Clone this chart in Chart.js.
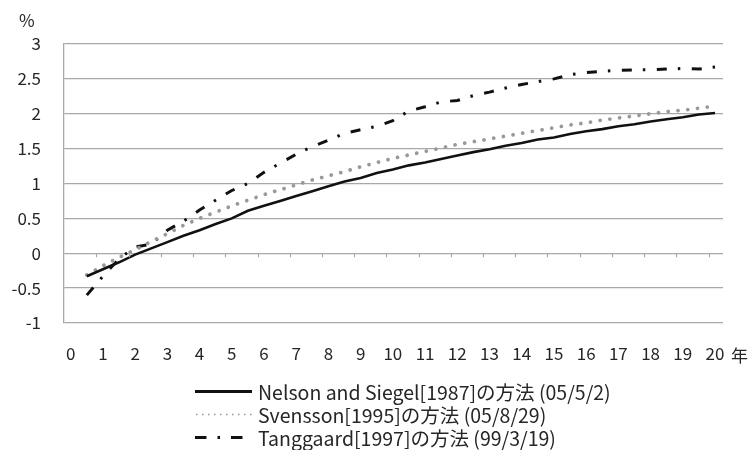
<!DOCTYPE html>
<html>
<head>
<meta charset="utf-8">
<script src="https://cdn.jsdelivr.net/npm/chart.js@4"></script>
<style>
  body { margin: 0; background: #fff; }
  #wrap { position: relative; width: 752px; height: 450px; font-family: "Noto Sans CJK JP", sans-serif; color: #262626; }
  canvas { position: absolute; left: 0; top: 0; }
  .lbl { position: absolute; font-size: 17px; line-height: 20px; }
  .row { position: absolute; left: 192px; height: 23px; font-size: 19.5px; line-height: 23px; white-space: nowrap; }
  .row svg { position: absolute; left: 0; top: 0; }
  .row span { position: absolute; left: 66px; top: 0; }
</style>
</head>
<body>
<div id="wrap">
  <canvas id="chart" width="752" height="450"></canvas>
  <div class="lbl" style="left:19px; top:10px;">%</div>
  <div class="lbl" style="left:731px; top:345px;">年</div>
  <div id="legend"></div>
</div>
<script>
// 年限 (0.5年刻み)
const years = [0.5, 1, 1.5, 2, 2.5, 3, 3.5, 4, 4.5, 5, 5.5, 6, 6.5, 7, 7.5, 8, 8.5, 9, 9.5, 10,
  10.5, 11, 11.5, 12, 12.5, 13, 13.5, 14, 14.5, 15, 15.5, 16, 16.5, 17, 17.5, 18, 18.5, 19, 19.5, 20];

// 各手法のスポットレート (%)
const nelsonSiegel = [-0.33, -0.23, -0.13, -0.02, 0.07, 0.16, 0.25, 0.33, 0.42, 0.5,
  0.61, 0.68, 0.75, 0.82, 0.89, 0.96, 1.03, 1.08, 1.15, 1.2,
  1.26, 1.3, 1.35, 1.4, 1.45, 1.49, 1.54, 1.58, 1.63, 1.66,
  1.71, 1.75, 1.78, 1.82, 1.85, 1.89, 1.92, 1.95, 1.99, 2.01];
const svensson = [-0.31, -0.18, -0.06, 0.05, 0.17, 0.28, 0.4, 0.5, 0.59, 0.68,
  0.76, 0.84, 0.91, 0.98, 1.05, 1.11, 1.17, 1.24, 1.3, 1.36,
  1.41, 1.46, 1.51, 1.56, 1.6, 1.64, 1.68, 1.72, 1.76, 1.8,
  1.84, 1.87, 1.91, 1.94, 1.97, 2.0, 2.03, 2.05, 2.08, 2.11];
const tanggaard = [-0.6, -0.33, -0.08, 0.09, 0.13, 0.33, 0.46, 0.62, 0.76, 0.9,
  1.0, 1.16, 1.29, 1.42, 1.53, 1.62, 1.72, 1.77, 1.82, 1.9,
  2.04, 2.1, 2.17, 2.19, 2.26, 2.31, 2.37, 2.42, 2.46, 2.5,
  2.56, 2.59, 2.61, 2.62, 2.63, 2.63, 2.64, 2.65, 2.64, 2.67];

// 目盛ラベル
const xTickLabels = [0, 1, 2, 3, 4, 5, 6, 7, 8, 9, 10, 11, 12, 13, 14, 15, 16, 17, 18, 19, 20];
const yTickLabels = [-1, -0.5, 0, 0.5, 1, 1.5, 2, 2.5, 3];
// 0%線上の小さな目盛 (元図ではラベルから少しずれている)
const axisTickMarks = [0.8, 1.8, 2.8, 3.8, 4.8, 5.8, 6.8, 7.8, 8.8, 9.8,
  10.8, 11.8, 12.8, 13.8, 14.8, 15.8, 16.8, 17.8, 18.8, 19.8];

const legendNames = [
  "Nelson and Siegel[1987]の方法 (05/5/2)",
  "Svensson[1995]の方法 (05/8/29)",
  "Tanggaard[1997]の方法 (99/3/19)",
];

const gridColor = "#a9a9a9";

function toPoints(values) {
  return values.map((v, i) => ({ x: years[i], y: v }));
}

// 0%線の目盛を描くプラグイン
const zeroTicks = {
  id: "zeroTicks",
  afterDatasetsDraw(chart) {
    const ctx = chart.ctx;
    const xs = chart.scales.x;
    const y0 = chart.scales.y.getPixelForValue(0);
    ctx.save();
    ctx.strokeStyle = gridColor;
    ctx.lineWidth = 1.2;
    axisTickMarks.forEach((t) => {
      const px = Math.round(xs.getPixelForValue(t)) + 0.5;
      ctx.beginPath();
      ctx.moveTo(px, y0);
      ctx.lineTo(px, y0 + 4);
      ctx.stroke();
    });
    ctx.restore();
  },
};

new Chart(document.getElementById("chart"), {
  type: "line",
  data: {
    datasets: [
      {
        label: legendNames[0],
        data: toPoints(nelsonSiegel),
        borderColor: "#111",
        borderWidth: 2.6,
        pointRadius: 0,
        tension: 0,
      },
      {
        label: legendNames[1],
        data: toPoints(svensson),
        borderColor: "#999",
        borderWidth: 3.8,
        borderDash: [0.01, 9.8],
        borderCapStyle: "round",
        pointRadius: 0,
        tension: 0,
      },
      {
        label: legendNames[2],
        data: toPoints(tanggaard),
        borderColor: "#111",
        borderWidth: 3,
        borderDash: [10, 11, 2.5, 11.5],
        pointRadius: 0,
        tension: 0,
      },
    ],
  },
  options: {
    responsive: false,
    animation: false,
    layout: { padding: { left: 0, right: 29, top: 44, bottom: 87 } },
    plugins: { legend: { display: false }, tooltip: { enabled: false } },
    scales: {
      x: {
        type: "linear",
        min: -0.208,
        max: 20.248,
        afterBuildTicks: (scale) => {
          scale.ticks = xTickLabels.map((v) => ({ value: v }));
        },
        afterFit: (scale) => {
          scale.height = 40;
        },
        grid: { display: false, drawTicks: false },
        border: { display: false },
        ticks: {
          padding: 20,
          maxRotation: 0,
          autoSkip: false,
          color: "#262626",
          font: { family: "Noto Sans CJK JP", size: 17 },
          callback: (v) => String(v),
        },
      },
      y: {
        min: -1,
        max: 3,
        afterBuildTicks: (scale) => {
          scale.ticks = yTickLabels.map((v) => ({ value: v }));
        },
        afterFit: (scale) => {
          scale.width = 64;
        },
        grid: { color: gridColor, lineWidth: 1.3, drawTicks: false },
        border: { color: gridColor, width: 1.3 },
        ticks: {
          padding: 23,
          color: "#262626",
          font: { family: "Noto Sans CJK JP", size: 17 },
          callback: (v) => String(v),
        },
      },
    },
  },
  plugins: [zeroTicks],
});

// 凡例 (HTML)
const legendSvgs = [
  '<line x1="3" y1="11.5" x2="60" y2="11.5" stroke="#111" stroke-width="3"/>',
  '<line x1="4" y1="11.5" x2="60" y2="11.5" stroke="#999" stroke-width="1.6" stroke-dasharray="1.5 4.5"/>',
  '<line x1="3" y1="11.5" x2="60" y2="11.5" stroke="#111" stroke-width="3" stroke-dasharray="11.5 11 2.5 11"/>',
];
const legendDiv = document.getElementById("legend");
legendNames.forEach((name, i) => {
  const row = document.createElement("div");
  row.className = "row";
  row.style.top = 380 + i * 23 + "px";
  row.innerHTML =
    '<svg width="62" height="23">' + legendSvgs[i] + "</svg><span>" + name + "</span>";
  legendDiv.appendChild(row);
});
</script>
</body>
</html>
